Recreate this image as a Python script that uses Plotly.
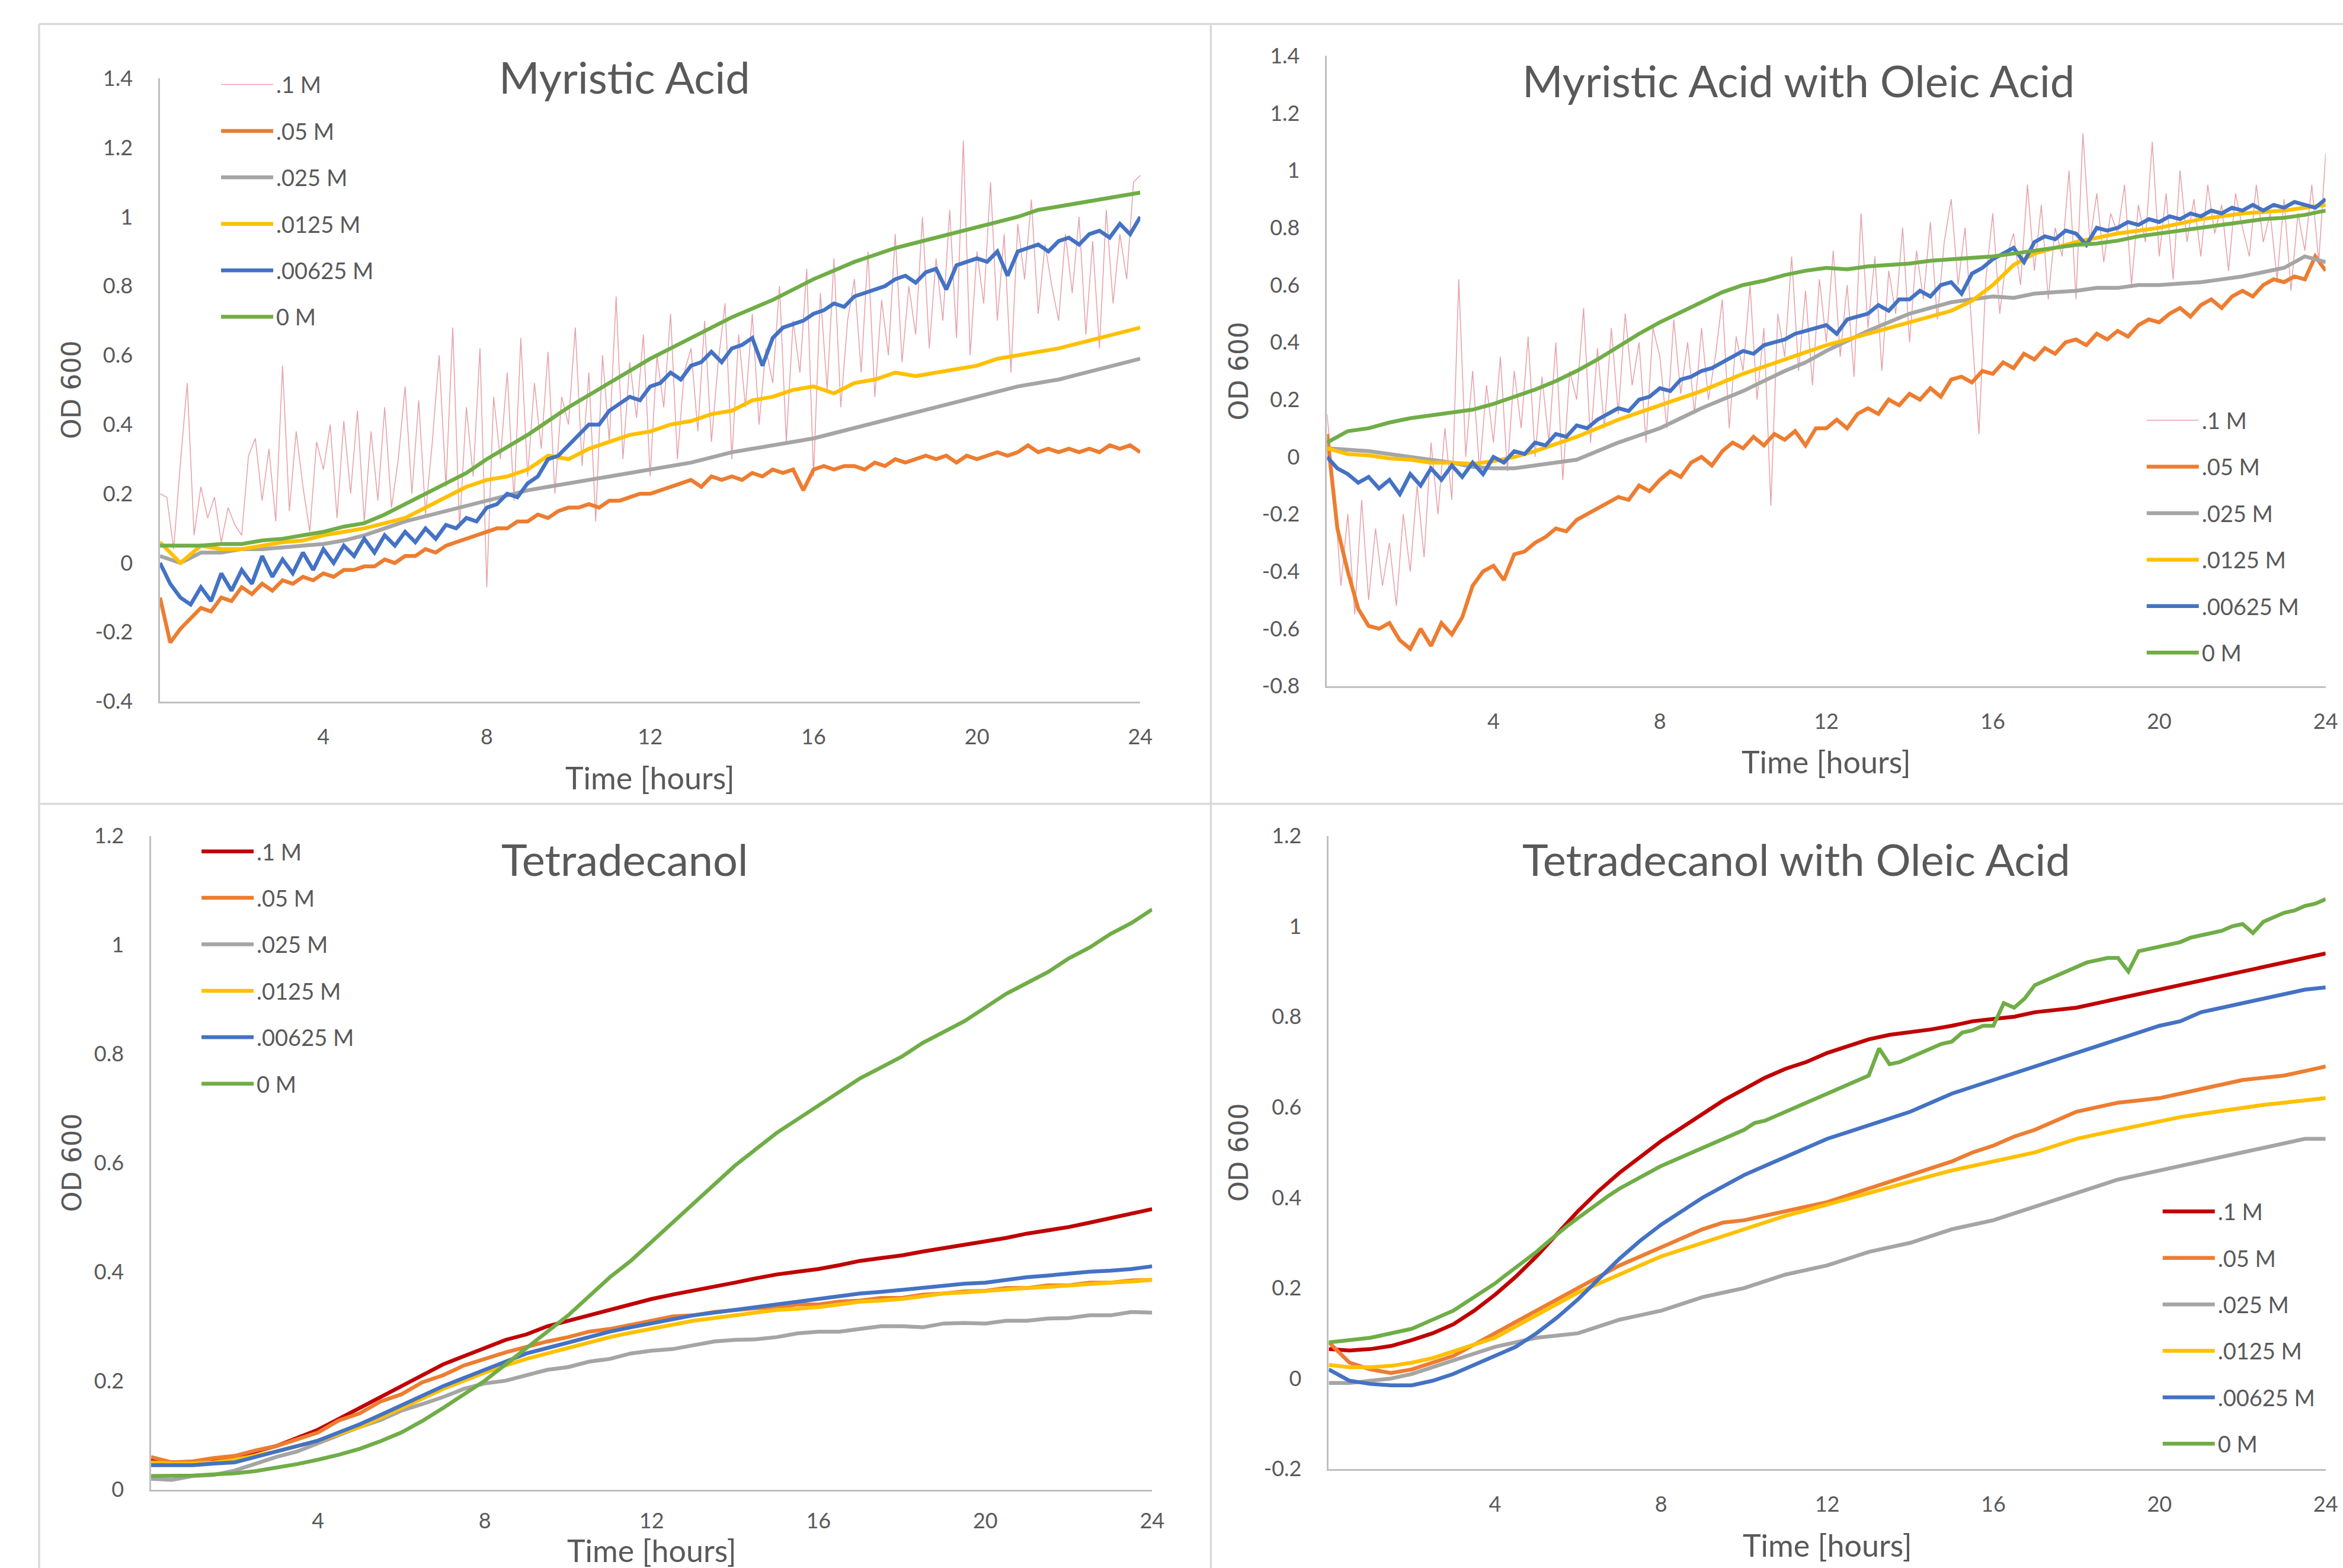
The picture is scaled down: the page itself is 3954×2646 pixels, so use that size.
import plotly.graph_objects as go

W, H = 3954, 2646

# ---------------- sampling times (hours) ----------------
t_half = [i * 0.5 for i in range(49)]
t_quarter = [i * 0.25 for i in range(97)]
t_sixth = [i / 6 for i in range(145)]

series_names = [".1 M", ".05 M", ".025 M", ".0125 M", ".00625 M", "0 M"]
panel_titles = ["Myristic Acid", "Myristic Acid with Oleic Acid",
                "Tetradecanol", "Tetradecanol with Oleic Acid"]
x_title = "Time [hours]"
y_title = "OD 600"

x_tick_vals = [4, 8, 12, 16, 20, 24]
x_tick_text = ["4", "8", "12", "16", "20", "24"]

y1_tick_vals = [1.4, 1.2, 1.0, 0.8, 0.6, 0.4, 0.2, 0.0, -0.2, -0.4]
y1_tick_text = ["1.4", "1.2", "1", "0.8", "0.6", "0.4", "0.2", "0", "-0.2", "-0.4"]
y2_tick_vals = [1.4, 1.2, 1.0, 0.8, 0.6, 0.4, 0.2, 0.0, -0.2, -0.4, -0.6, -0.8]
y2_tick_text = ["1.4", "1.2", "1", "0.8", "0.6", "0.4", "0.2", "0", "-0.2", "-0.4", "-0.6", "-0.8"]
y3_tick_vals = [1.2, 1.0, 0.8, 0.6, 0.4, 0.2, 0.0]
y3_tick_text = ["1.2", "1", "0.8", "0.6", "0.4", "0.2", "0"]
y4_tick_vals = [1.2, 1.0, 0.8, 0.6, 0.4, 0.2, 0.0, -0.2]
y4_tick_text = ["1.2", "1", "0.8", "0.6", "0.4", "0.2", "0", "-0.2"]

# ---------------- Panel 1: Myristic Acid ----------------
p1_01 = [  # every 10 min
    0.20, 0.19, 0.04, 0.29, 0.52, 0.08,
    0.22, 0.13, 0.19, 0.06, 0.16, 0.11,
    0.08, 0.31, 0.36, 0.18, 0.33, 0.12,
    0.57, 0.15, 0.38, 0.22, 0.09, 0.35,
    0.27, 0.40, 0.13, 0.41, 0.20, 0.44,
    0.12, 0.38, 0.18, 0.45, 0.16, 0.30,
    0.51, 0.20, 0.47, 0.14, 0.35, 0.60,
    0.22, 0.68, 0.10, 0.45, 0.25, 0.62,
    -0.07, 0.48, 0.30, 0.55, 0.18, 0.65,
    0.25, 0.52, 0.33, 0.61, 0.20, 0.48,
    0.40, 0.68, 0.28, 0.55, 0.12, 0.60,
    0.35, 0.77, 0.30, 0.58, 0.42, 0.66,
    0.25, 0.60, 0.45, 0.72, 0.30, 0.55,
    0.62, 0.38, 0.70, 0.35, 0.58, 0.75,
    0.30, 0.66, 0.45, 0.72, 0.40, 0.62,
    0.52, 0.80, 0.35, 0.70, 0.55, 0.85,
    0.25, 0.78, 0.50, 0.88, 0.45, 0.70,
    0.82, 0.55, 0.90, 0.48, 0.76, 0.60,
    0.95, 0.58, 0.80, 0.66, 1.00, 0.62,
    0.88, 0.70, 1.02, 0.65, 1.22, 0.60,
    0.90, 0.75, 1.10, 0.70, 0.95, 0.55,
    0.98, 0.82, 1.05, 0.72, 0.92, 0.80,
    0.70, 0.95, 0.78, 1.00, 0.66, 0.93,
    0.62, 1.02, 0.75, 0.95, 0.82, 1.10,
    1.12]
p1_005 = [  # every 15 min
    -0.10, -0.23, -0.19, -0.16, -0.13, -0.14, -0.10, -0.11,
    -0.07, -0.09, -0.06, -0.08, -0.05, -0.06, -0.04, -0.05,
    -0.03, -0.04, -0.02, -0.02, -0.01, -0.01, 0.01, 0.00,
    0.02, 0.02, 0.04, 0.03, 0.05, 0.06, 0.07, 0.08,
    0.09, 0.10, 0.10, 0.12, 0.12, 0.14, 0.13, 0.15,
    0.16, 0.16, 0.17, 0.16, 0.18, 0.18, 0.19, 0.20,
    0.20, 0.21, 0.22, 0.23, 0.24, 0.22, 0.25, 0.24,
    0.25, 0.24, 0.26, 0.25, 0.27, 0.26, 0.27, 0.21,
    0.27, 0.28, 0.27, 0.28, 0.28, 0.27, 0.29, 0.28,
    0.30, 0.29, 0.30, 0.31, 0.30, 0.31, 0.29, 0.31,
    0.30, 0.31, 0.32, 0.31, 0.32, 0.34, 0.32, 0.33,
    0.32, 0.33, 0.32, 0.33, 0.32, 0.34, 0.33, 0.34,
    0.32]
p1_0025 = [  # every 30 min
    0.02, 0.00, 0.03, 0.03, 0.04, 0.04, 0.045, 0.05,
    0.055, 0.065, 0.08, 0.10, 0.12, 0.135, 0.15, 0.165,
    0.18, 0.195, 0.21, 0.22, 0.23, 0.24, 0.25, 0.26,
    0.27, 0.28, 0.29, 0.305, 0.32, 0.33, 0.34, 0.35,
    0.36, 0.375, 0.39, 0.405, 0.42, 0.435, 0.45, 0.465,
    0.48, 0.495, 0.51, 0.52, 0.53, 0.545, 0.56, 0.575,
    0.59]
p1_00125 = [  # every 30 min
    0.06, 0.00, 0.05, 0.04, 0.04, 0.05, 0.06, 0.065,
    0.08, 0.09, 0.10, 0.115, 0.13, 0.16, 0.19, 0.22,
    0.24, 0.25, 0.27, 0.31, 0.30, 0.33, 0.35, 0.37,
    0.38, 0.40, 0.41, 0.43, 0.44, 0.47, 0.48, 0.50,
    0.51, 0.49, 0.52, 0.53, 0.55, 0.54, 0.55, 0.56,
    0.57, 0.59, 0.60, 0.61, 0.62, 0.635, 0.65, 0.665,
    0.68]
p1_000625 = [  # every 15 min
    0.00, -0.06, -0.10, -0.12, -0.07, -0.11, -0.03, -0.08,
    -0.02, -0.06, 0.02, -0.04, 0.01, -0.03, 0.03, -0.02,
    0.04, 0.00, 0.05, 0.02, 0.07, 0.03, 0.08, 0.05,
    0.09, 0.06, 0.10, 0.07, 0.11, 0.10, 0.13, 0.12,
    0.16, 0.17, 0.20, 0.19, 0.23, 0.25, 0.30, 0.31,
    0.34, 0.37, 0.40, 0.40, 0.44, 0.46, 0.48, 0.47,
    0.51, 0.52, 0.55, 0.53, 0.57, 0.58, 0.61, 0.58,
    0.62, 0.63, 0.65, 0.57, 0.65, 0.68, 0.69, 0.70,
    0.72, 0.73, 0.75, 0.74, 0.77, 0.78, 0.79, 0.80,
    0.82, 0.83, 0.81, 0.84, 0.85, 0.79, 0.86, 0.87,
    0.88, 0.87, 0.90, 0.83, 0.90, 0.91, 0.92, 0.90,
    0.93, 0.94, 0.92, 0.95, 0.96, 0.94, 0.98, 0.95,
    1.00]
p1_0 = [  # every 30 min
    0.05, 0.05, 0.05, 0.055, 0.055, 0.065, 0.07, 0.08,
    0.09, 0.105, 0.115, 0.14, 0.17, 0.20, 0.23, 0.26,
    0.30, 0.335, 0.37, 0.41, 0.45, 0.485, 0.52, 0.555,
    0.59, 0.62, 0.65, 0.68, 0.71, 0.735, 0.76, 0.79,
    0.82, 0.845, 0.87, 0.89, 0.91, 0.925, 0.94, 0.955,
    0.97, 0.985, 1.00, 1.02, 1.03, 1.04, 1.05, 1.06,
    1.07]

# ---------------- Panel 2: Myristic Acid with Oleic Acid ----------------
p2_01 = [  # every 10 min
    0.15, -0.10, -0.45, -0.20, -0.55, -0.15,
    -0.50, -0.25, -0.45, -0.30, -0.52, -0.20,
    -0.40, -0.10, -0.35, 0.05, -0.20, 0.10,
    -0.15, 0.62, 0.00, 0.30, -0.05, 0.25,
    0.05, 0.35, -0.05, 0.30, 0.10, 0.42,
    0.00, 0.28, 0.05, 0.40, -0.08, 0.30,
    0.20, 0.52, 0.05, 0.38, 0.10, 0.45,
    0.15, 0.50, 0.25, 0.40, 0.05, 0.45,
    0.35, 0.10, 0.48, 0.22, 0.40, 0.15,
    0.45, 0.20, 0.35, 0.55, 0.10, 0.42,
    0.30, 0.60, 0.20, 0.45, -0.17, 0.50,
    0.35, 0.70, 0.30, 0.58, 0.25, 0.62,
    0.40, 0.72, 0.35, 0.60, 0.28, 0.85,
    0.45, 0.70, 0.30, 0.65, 0.50, 0.80,
    0.40, 0.72, 0.55, 0.82, 0.48, 0.75,
    0.90, 0.60, 0.80, 0.45, 0.08, 0.62,
    0.85, 0.50, 0.70, 0.78, 0.60, 0.95,
    0.65, 0.88, 0.55, 0.80, 0.70, 1.00,
    0.55, 1.13, 0.75, 0.92, 0.68, 0.85,
    0.78, 0.95, 0.60, 0.88, 0.75, 1.10,
    0.70, 0.92, 0.62, 1.00, 0.75, 0.90,
    0.70, 0.95, 0.78, 0.88, 0.65, 0.92,
    0.80, 0.70, 0.95, 0.75, 0.85, 0.62,
    0.90, 0.58, 0.85, 0.72, 0.95, 0.68,
    1.06]
p2_005 = [  # every 15 min
    0.08, -0.25, -0.40, -0.53, -0.59, -0.60, -0.58, -0.64,
    -0.67, -0.60, -0.66, -0.58, -0.62, -0.56, -0.45, -0.40,
    -0.38, -0.43, -0.34, -0.33, -0.30, -0.28, -0.25, -0.26,
    -0.22, -0.20, -0.18, -0.16, -0.14, -0.15, -0.10, -0.12,
    -0.08, -0.05, -0.07, -0.02, 0.00, -0.03, 0.02, 0.05,
    0.03, 0.07, 0.04, 0.08, 0.06, 0.09, 0.04, 0.10,
    0.10, 0.13, 0.10, 0.15, 0.17, 0.15, 0.20, 0.18,
    0.22, 0.20, 0.24, 0.21, 0.27, 0.28, 0.26, 0.30,
    0.29, 0.33, 0.31, 0.36, 0.34, 0.38, 0.36, 0.40,
    0.41, 0.39, 0.43, 0.41, 0.44, 0.42, 0.46, 0.48,
    0.47, 0.50, 0.52, 0.49, 0.53, 0.55, 0.52, 0.56,
    0.58, 0.56, 0.60, 0.62, 0.61, 0.63, 0.62, 0.70,
    0.65]
p2_0025 = [  # every 30 min
    0.03, 0.025, 0.02, 0.01, 0.00, -0.01, -0.02, -0.035,
    -0.04, -0.04, -0.03, -0.02, -0.01, 0.02, 0.05, 0.075,
    0.10, 0.135, 0.17, 0.20, 0.23, 0.265, 0.30, 0.33,
    0.37, 0.405, 0.44, 0.47, 0.50, 0.52, 0.54, 0.55,
    0.56, 0.555, 0.57, 0.575, 0.58, 0.59, 0.59, 0.60,
    0.60, 0.605, 0.61, 0.62, 0.63, 0.645, 0.66, 0.70,
    0.68]
p2_00125 = [  # every 30 min
    0.03, 0.01, 0.005, -0.005, -0.01, -0.02, -0.02, -0.025,
    -0.015, 0.00, 0.02, 0.045, 0.07, 0.10, 0.13, 0.155,
    0.18, 0.205, 0.23, 0.26, 0.29, 0.315, 0.34, 0.365,
    0.39, 0.41, 0.43, 0.45, 0.47, 0.49, 0.51, 0.545,
    0.60, 0.67, 0.71, 0.73, 0.75, 0.765, 0.78, 0.79,
    0.80, 0.815, 0.83, 0.84, 0.85, 0.855, 0.86, 0.87,
    0.88]
p2_000625 = [  # every 15 min
    0.00, -0.04, -0.06, -0.09, -0.07, -0.11, -0.08, -0.13,
    -0.06, -0.10, -0.04, -0.08, -0.03, -0.07, -0.02, -0.06,
    0.00, -0.02, 0.02, 0.01, 0.05, 0.04, 0.08, 0.07,
    0.11, 0.10, 0.13, 0.15, 0.17, 0.16, 0.20, 0.21,
    0.24, 0.23, 0.27, 0.28, 0.30, 0.31, 0.33, 0.35,
    0.37, 0.36, 0.39, 0.40, 0.41, 0.43, 0.44, 0.45,
    0.46, 0.43, 0.48, 0.49, 0.50, 0.53, 0.51, 0.55,
    0.55, 0.58, 0.56, 0.60, 0.61, 0.57, 0.64, 0.66,
    0.69, 0.71, 0.73, 0.68, 0.75, 0.77, 0.76, 0.79,
    0.78, 0.74, 0.80, 0.79, 0.80, 0.82, 0.81, 0.83,
    0.82, 0.84, 0.83, 0.85, 0.84, 0.86, 0.85, 0.87,
    0.86, 0.88, 0.86, 0.88, 0.87, 0.89, 0.88, 0.87,
    0.90]
p2_0 = [  # every 30 min
    0.05, 0.09, 0.10, 0.12, 0.135, 0.145, 0.155, 0.165,
    0.185, 0.21, 0.235, 0.265, 0.30, 0.34, 0.385, 0.43,
    0.47, 0.505, 0.54, 0.575, 0.60, 0.615, 0.635, 0.65,
    0.66, 0.655, 0.665, 0.67, 0.675, 0.685, 0.69, 0.695,
    0.70, 0.71, 0.72, 0.73, 0.74, 0.745, 0.755, 0.77,
    0.78, 0.79, 0.80, 0.81, 0.82, 0.83, 0.835, 0.845,
    0.86]

# ---------------- Panel 3: Tetradecanol (every 30 min) ----------------
p3_01 = [
    0.055, 0.05, 0.05, 0.055, 0.06, 0.07, 0.08, 0.095,
    0.11, 0.13, 0.15, 0.17, 0.19, 0.21, 0.23, 0.245,
    0.26, 0.275, 0.285, 0.30, 0.31, 0.32, 0.33, 0.34,
    0.35, 0.358, 0.365, 0.372, 0.38, 0.388, 0.395, 0.40,
    0.405, 0.412, 0.42, 0.425, 0.43, 0.437, 0.443, 0.45,
    0.456, 0.462, 0.47, 0.476, 0.482, 0.49, 0.498, 0.506,
    0.515]
p3_005 = [
    0.06, 0.05, 0.052, 0.058, 0.062, 0.072, 0.08, 0.092,
    0.105, 0.127, 0.14, 0.162, 0.175, 0.197, 0.21, 0.228,
    0.24, 0.252, 0.262, 0.272, 0.28, 0.29, 0.295, 0.302,
    0.31, 0.318, 0.32, 0.326, 0.33, 0.333, 0.335, 0.34,
    0.34, 0.345, 0.347, 0.352, 0.352, 0.358, 0.36, 0.364,
    0.365, 0.37, 0.37, 0.375, 0.375, 0.38, 0.38, 0.384,
    0.385]
p3_0025 = [
    0.02, 0.018, 0.025, 0.027, 0.035, 0.047, 0.06, 0.07,
    0.085, 0.10, 0.115, 0.128, 0.145, 0.157, 0.17, 0.185,
    0.195, 0.20, 0.21, 0.22, 0.225, 0.235, 0.24, 0.25,
    0.255, 0.258, 0.265, 0.272, 0.275, 0.276, 0.28, 0.287,
    0.29, 0.29, 0.295, 0.30, 0.30, 0.298, 0.305, 0.306,
    0.305, 0.31, 0.31, 0.314, 0.315, 0.32, 0.32, 0.326,
    0.325]
p3_00125 = [
    0.05, 0.048, 0.048, 0.05, 0.055, 0.062, 0.07, 0.08,
    0.09, 0.102, 0.115, 0.132, 0.15, 0.168, 0.185, 0.20,
    0.215, 0.228, 0.24, 0.25, 0.26, 0.27, 0.28, 0.288,
    0.295, 0.302, 0.31, 0.315, 0.32, 0.325, 0.33, 0.332,
    0.335, 0.34, 0.345, 0.347, 0.35, 0.355, 0.36, 0.362,
    0.365, 0.368, 0.37, 0.372, 0.375, 0.378, 0.38, 0.382,
    0.385]
p3_000625 = [
    0.045, 0.045, 0.045, 0.048, 0.05, 0.06, 0.07, 0.08,
    0.09, 0.105, 0.12, 0.137, 0.155, 0.172, 0.19, 0.205,
    0.22, 0.235, 0.25, 0.26, 0.27, 0.28, 0.29, 0.298,
    0.305, 0.312, 0.32, 0.325, 0.33, 0.335, 0.34, 0.345,
    0.35, 0.355, 0.36, 0.363, 0.367, 0.37, 0.375, 0.378,
    0.38, 0.385, 0.39, 0.393, 0.397, 0.40, 0.402, 0.405,
    0.41]
p3_0 = [
    0.025, 0.025, 0.026, 0.028, 0.03, 0.034, 0.04, 0.047,
    0.055, 0.064, 0.075, 0.089, 0.105, 0.126, 0.15, 0.175,
    0.20, 0.23, 0.26, 0.29, 0.32, 0.355, 0.39, 0.42,
    0.455, 0.49, 0.525, 0.56, 0.595, 0.625, 0.655, 0.68,
    0.705, 0.73, 0.755, 0.775, 0.795, 0.82, 0.84, 0.86,
    0.885, 0.91, 0.93, 0.95, 0.975, 0.995, 1.02, 1.04,
    1.065]

# ---------------- Panel 4: Tetradecanol with Oleic Acid ----------------
p4_01 = [  # every 30 min
    0.065, 0.062, 0.065, 0.072, 0.085, 0.10, 0.12, 0.15,
    0.185, 0.225, 0.27, 0.32, 0.37, 0.415, 0.455, 0.49,
    0.525, 0.555, 0.585, 0.615, 0.64, 0.665, 0.685, 0.70,
    0.72, 0.735, 0.75, 0.76, 0.765, 0.772, 0.78, 0.79,
    0.795, 0.80, 0.81, 0.815, 0.82, 0.83, 0.84, 0.85,
    0.86, 0.87, 0.88, 0.89, 0.90, 0.91, 0.92, 0.93,
    0.94]
p4_005 = [  # every 30 min
    0.08, 0.035, 0.02, 0.012, 0.02, 0.035, 0.05, 0.075,
    0.10, 0.125, 0.15, 0.175, 0.20, 0.225, 0.25, 0.27,
    0.29, 0.31, 0.33, 0.345, 0.35, 0.36, 0.37, 0.38,
    0.39, 0.405, 0.42, 0.435, 0.45, 0.465, 0.48, 0.50,
    0.515, 0.535, 0.55, 0.57, 0.59, 0.60, 0.61, 0.615,
    0.62, 0.63, 0.64, 0.65, 0.66, 0.665, 0.67, 0.68,
    0.69]
p4_0025 = [  # every 30 min
    -0.01, -0.01, -0.005, 0.0, 0.01, 0.025, 0.04, 0.055,
    0.07, 0.08, 0.09, 0.095, 0.10, 0.115, 0.13, 0.14,
    0.15, 0.165, 0.18, 0.19, 0.20, 0.215, 0.23, 0.24,
    0.25, 0.265, 0.28, 0.29, 0.30, 0.315, 0.33, 0.34,
    0.35, 0.365, 0.38, 0.395, 0.41, 0.425, 0.44, 0.45,
    0.46, 0.47, 0.48, 0.49, 0.50, 0.51, 0.52, 0.53,
    0.53]
p4_00125 = [  # every 30 min
    0.03, 0.025, 0.025, 0.028, 0.035, 0.045, 0.06, 0.075,
    0.09, 0.115, 0.14, 0.165, 0.19, 0.21, 0.23, 0.25,
    0.27, 0.285, 0.30, 0.315, 0.33, 0.345, 0.36, 0.372,
    0.385, 0.398, 0.41, 0.423, 0.435, 0.448, 0.46, 0.47,
    0.48, 0.49, 0.50, 0.515, 0.53, 0.54, 0.55, 0.56,
    0.57, 0.578, 0.585, 0.592, 0.60, 0.605, 0.61, 0.615,
    0.62]
p4_000625 = [  # every 30 min
    0.02, -0.005, -0.012, -0.015, -0.015, -0.005, 0.01, 0.03,
    0.05, 0.07, 0.10, 0.135, 0.175, 0.22, 0.265, 0.305,
    0.34, 0.37, 0.40, 0.425, 0.45, 0.47, 0.49, 0.51,
    0.53, 0.545, 0.56, 0.575, 0.59, 0.61, 0.63, 0.645,
    0.66, 0.675, 0.69, 0.705, 0.72, 0.735, 0.75, 0.765,
    0.78, 0.79, 0.81, 0.82, 0.83, 0.84, 0.85, 0.86,
    0.865]
p4_0 = [  # every 15 min
    0.08, 0.082, 0.085, 0.087, 0.09, 0.095, 0.10, 0.105,
    0.11, 0.12, 0.13, 0.14, 0.15, 0.165, 0.18, 0.195,
    0.21, 0.228, 0.245, 0.262, 0.28, 0.30, 0.32, 0.338,
    0.355, 0.372, 0.39, 0.405, 0.42, 0.433, 0.445, 0.458,
    0.47, 0.48, 0.49, 0.50, 0.51, 0.52, 0.53, 0.54,
    0.55, 0.565, 0.57, 0.58, 0.59, 0.60, 0.61, 0.62,
    0.63, 0.64, 0.65, 0.66, 0.67, 0.73, 0.695, 0.70,
    0.71, 0.72, 0.73, 0.74, 0.745, 0.765, 0.77, 0.78,
    0.78, 0.83, 0.82, 0.84, 0.87, 0.88, 0.89, 0.90,
    0.91, 0.92, 0.925, 0.93, 0.93, 0.90, 0.945, 0.95,
    0.955, 0.96, 0.965, 0.975, 0.98, 0.985, 0.99, 1.00,
    1.005, 0.985, 1.01, 1.02, 1.03, 1.035, 1.045, 1.05,
    1.06]

# ---------------- styling ----------------
TXT = "#595959"
FONT = "Lato"
AXIS_LINE = "#bfbfbf"
BORDER = "#d9d9d9"
LW = 6.5

styles_top = [("#e6a3ab", 1.6), ("#ed7d31", LW), ("#a5a5a5", LW),
              ("#ffc000", LW), ("#4472c4", LW), ("#70ad47", LW)]
styles_bottom = [("#c00000", LW), ("#ed7d31", LW), ("#a5a5a5", LW),
                 ("#ffc000", LW), ("#4472c4", LW), ("#70ad47", LW)]

LEG_ITEM_W = 88

# The photographed page comes out slightly shrunk (about 0.9945 across,
# 0.984 down, with a small top offset); positions are pre-corrected for that.
SX, SY, OY = 0.9945, 0.984, 21.6


def fx(px):
    return (px / SX) / W


def fy(py):
    return 1 - ((py - OY) / SY) / H


panels = [
    dict(series=[(t_sixth, p1_01), (t_quarter, p1_005), (t_half, p1_0025),
                 (t_half, p1_00125), (t_quarter, p1_000625), (t_half, p1_0)],
         styles=styles_top, xdom=(270, 1924), ydom=(131, 1183), yr=(-0.4, 1.4),
         yt=(y1_tick_vals, y1_tick_text), legend_xy=(461, 110),
         title_xy=(1054, 128), xt_y=1311, yt_x=121, xstand=26),
    dict(series=[(t_sixth, p2_01), (t_quarter, p2_005), (t_half, p2_0025),
                 (t_half, p2_00125), (t_quarter, p2_000625), (t_half, p2_0)],
         styles=styles_top, xdom=(2239, 3924), ydom=(93, 1157), yr=(-0.8, 1.4),
         yt=(y2_tick_vals, y2_tick_text), legend_xy=(3710, 677),
         title_xy=(3034, 134), xt_y=1284, yt_x=2090, xstand=26),
    dict(series=[(t_half, p3_01), (t_half, p3_005), (t_half, p3_0025),
                 (t_half, p3_00125), (t_half, p3_000625), (t_half, p3_0)],
         styles=styles_bottom, xdom=(255, 1944), ydom=(1410, 2514), yr=(0, 1.2),
         yt=(y3_tick_vals, y3_tick_text), legend_xy=(428, 1405),
         title_xy=(1054, 1449), xt_y=2616, yt_x=121, xstand=19),
    dict(series=[(t_half, p4_01), (t_half, p4_005), (t_half, p4_0025),
                 (t_half, p4_00125), (t_half, p4_000625), (t_quarter, p4_0)],
         styles=styles_bottom, xdom=(2242, 3924), ydom=(1410, 2479), yr=(-0.2, 1.2),
         yt=(y4_tick_vals, y4_tick_text), legend_xy=(3737, 2013),
         title_xy=(3031, 1449), xt_y=2607, yt_x=2090, xstand=26),
]

fig = go.Figure()
layout = dict(
    width=W, height=H,
    margin=dict(l=0, r=0, t=0, b=0),
    paper_bgcolor="white", plot_bgcolor="rgba(0,0,0,0)",
    showlegend=True, annotations=[], shapes=[],
)

for i, p in enumerate(panels):
    k = i + 1
    xa = "x" if k == 1 else f"x{k}"
    ya = "y" if k == 1 else f"y{k}"
    lg = "legend" if k == 1 else f"legend{k}"
    for j, ((tx, ty), (col, lw)) in enumerate(zip(p["series"], p["styles"])):
        fig.add_trace(go.Scatter(
            x=tx, y=ty, mode="lines", name=series_names[j],
            line=dict(color=col, width=lw),
            xaxis=xa, yaxis=ya, legend=lg, legendgroup=f"p{k}s{j}",
            hoverinfo="skip",
        ))
    xkey = "xaxis" if k == 1 else f"xaxis{k}"
    ykey = "yaxis" if k == 1 else f"yaxis{k}"
    layout[xkey] = dict(
        domain=[fx(p["xdom"][0]), fx(p["xdom"][1])], range=[0, 24],
        anchor=ya, showgrid=False, zeroline=False, showline=True,
        linecolor=AXIS_LINE, linewidth=2.5, ticks="", ticklen=0,
        tickvals=x_tick_vals, ticktext=x_tick_text,
        tickfont=dict(family=FONT, size=36, color=TXT),
        ticklabelstandoff=p["xstand"],
    )
    layout[ykey] = dict(
        domain=[fy(p["ydom"][1]), fy(p["ydom"][0])], range=list(p["yr"]),
        anchor=xa, showgrid=False, zeroline=False, showline=True,
        linecolor=AXIS_LINE, linewidth=2.5, ticks="", ticklen=0,
        tickvals=p["yt"][0], ticktext=p["yt"][1],
        tickfont=dict(family=FONT, size=36, color=TXT),
        ticklabelstandoff=36,
    )
    # legend_xy: (x where the legend line ends, top of legend box)
    layout[lg] = dict(
        x=fx(p["legend_xy"][0] - LEG_ITEM_W - 5), y=fy(p["legend_xy"][1]),
        xanchor="left", yanchor="top", bgcolor="rgba(0,0,0,0)",
        borderwidth=0, font=dict(family=FONT, size=38, color=TXT),
        tracegroupgap=26, itemwidth=LEG_ITEM_W, traceorder="grouped",
    )
    layout["annotations"].append(dict(
        text=panel_titles[i], x=fx(p["title_xy"][0]), y=fy(p["title_xy"][1]),
        xref="paper", yref="paper", xanchor="center", yanchor="middle",
        showarrow=False, font=dict(family=FONT, size=74, color=TXT)))
    layout["annotations"].append(dict(
        text=x_title, x=fx((p["xdom"][0] + p["xdom"][1]) / 2), y=fy(p["xt_y"]),
        xref="paper", yref="paper", xanchor="center", yanchor="middle",
        showarrow=False, font=dict(family=FONT, size=52, color=TXT)))
    layout["annotations"].append(dict(
        text=y_title, x=fx(p["yt_x"]), y=fy((p["ydom"][0] + p["ydom"][1]) / 2),
        xref="paper", yref="paper", xanchor="center", yanchor="middle",
        textangle=-90, showarrow=False,
        font=dict(family="DejaVu Sans", size=44, color=TXT)))

# chart-area borders
for (x0, y0, x1, y1) in [(66, 39, W / SX, 39), (66, 1356, W / SX, 1356),
                         (66, 39, 66, H + 60), (2043, 39, 2043, H + 60)]:
    layout["shapes"].append(dict(
        type="line", xref="paper", yref="paper",
        x0=fx(x0), y0=fy(y0), x1=fx(x1), y1=fy(y1),
        line=dict(color=BORDER, width=3.5)))

fig.update_layout(**layout)
pin_page = (
    "document.documentElement.style.overflow='hidden';"
    "document.body.style.margin='0';document.body.style.overflow='hidden';"
)
fig.write_html("out.html", config={"displayModeBar": False}, post_script=pin_page)
